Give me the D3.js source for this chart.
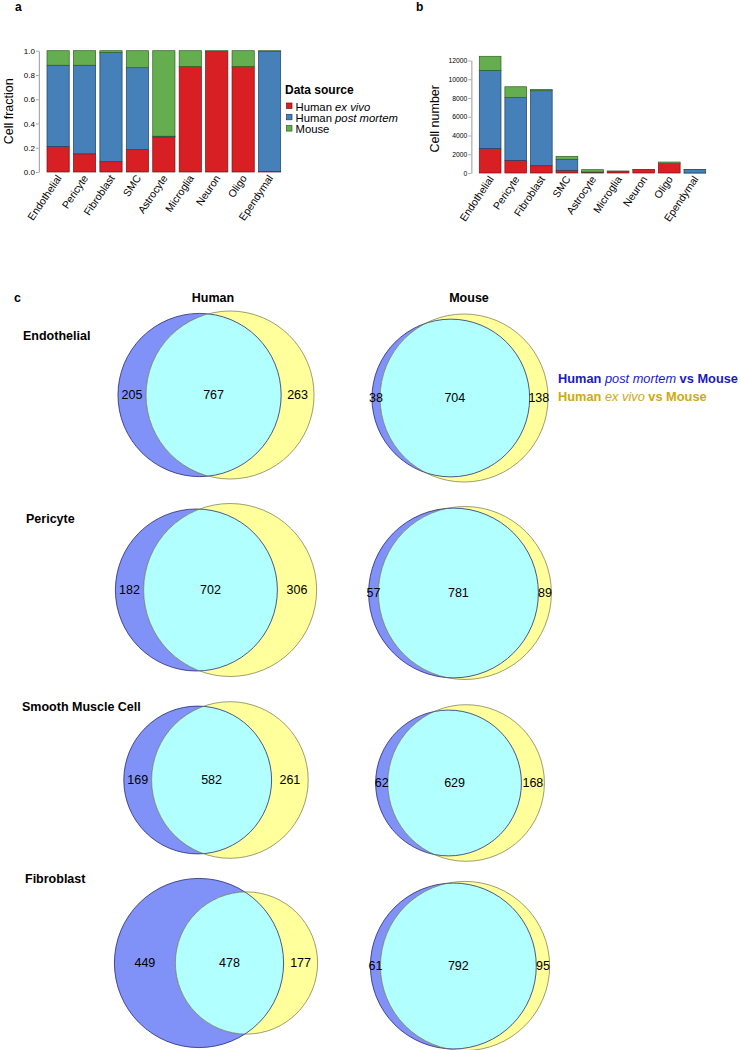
<!DOCTYPE html>
<html><head><meta charset="utf-8">
<script src="https://cdn.jsdelivr.net/npm/d3@7"></script>
<style>
body{margin:0;background:#fff;}
svg{display:block;font-family:"Liberation Sans",Arial,sans-serif;}
</style></head>
<body>
<svg id="chart" width="740" height="1050"></svg>
<script>
// ---------------- DATA ----------------
const cellTypes = ["Endothelial","Pericyte","Fibroblast","SMC","Astrocyte","Microglia","Neuron","Oligo","Ependymal"];
const sourceNames = ["Human ex vivo","Human post mortem","Mouse"];
// panel a: cell fraction per data source
const fracExVivo     = [0.21, 0.15, 0.085, 0.185, 0.29, 0.87, 0.995, 0.87, 0.003];
const fracPostMortem = [0.67, 0.73, 0.90, 0.675, 0.005, 0, 0, 0, 0.99];
const fracMouse      = [0.12, 0.12, 0.015, 0.14, 0.705, 0.13, 0.005, 0.13, 0.007];
// panel b: cell number per data source
const numExVivo      = [2600, 1350, 780, 290, 100, 185, 385, 1000, 5];
const numPostMortem  = [8350, 6700, 8000, 1170, 5, 0, 0, 0, 375];
const numMouse       = [1500, 1150, 130, 320, 250, 28, 5, 170, 10];
const fracTicks = [0, 0.2, 0.4, 0.6, 0.8, 1.0];
const numTicks = [0, 2000, 4000, 6000, 8000, 10000, 12000];
// panel c: Venn counts
const vennRows = ["Endothelial","Pericyte","Smooth Muscle Cell","Fibroblast"];
const humanLeft  = [205, 182, 169, 449];
const humanBoth  = [767, 702, 582, 478];
const humanRight = [263, 306, 261, 177];
const mouseLeft  = [38, 57, 62, 61];
const mouseBoth  = [704, 781, 629, 792];
const mouseRight = [138, 89, 168, 95];

// ---------------- STYLE / LAYOUT ----------------
const colors = ["#d71f24", "#4680b8", "#64ae50"];
const strokes = ["#7a1012", "#1f3f66", "#2f5f24"];
const vennBlue = "#8092f8", vennYellow = "#ffff9c", vennCyan = "#b2ffff";
const rowRadius = [84, 86.5, 78.3, 84.6];   // radius of larger circle per row (px)
const rowCy = [395, 590, 780, 963];
const colCx = [216, 460];
const colDy = [0, 3];

const svg = d3.select("#chart");

function stackedPanel(g, vals, yDomain, yRange, xRange, pad, ticks, fmt, tickFont) {
  const x = d3.scaleBand().domain(cellTypes).range(xRange).paddingInner(pad).paddingOuter(pad/2);
  const y = d3.scaleLinear().domain(yDomain).range(yRange);
  const rows = cellTypes.map((c,i)=>({cat:c, v:[vals[0][i], vals[1][i], vals[2][i]]}));
  rows.forEach(r=>{
    let acc = 0;
    r.v.forEach((v,k)=>{
      const y0 = acc, y1 = acc + v; acc = y1;
      if (v <= 0) return;
      g.append("rect").attr("x", x(r.cat)).attr("width", x.bandwidth())
        .attr("y", y(y1)).attr("height", y(y0) - y(y1))
        .attr("fill", colors[k]).attr("stroke", strokes[k]).attr("stroke-width", 0.7);
    });
  });
  const axisX = xRange[0] - 6;
  const ax = g.append("g").attr("transform", `translate(${axisX},0)`)
    .call(d3.axisLeft(y).tickValues(ticks).tickFormat(fmt).tickSize(3).tickSizeOuter(0));
  ax.select(".domain").attr("stroke", "#aaa").attr("stroke-width", 1.2);
  ax.selectAll(".tick line").attr("stroke", "#aaa");
  ax.selectAll(".tick text").attr("font-size", tickFont).attr("fill", "#000")
    .attr("font-family", "Liberation Sans, Arial, sans-serif").attr("x", -4);
  // category labels
  g.selectAll("text.cat").data(cellTypes).enter().append("text")
    .attr("class","cat")
    .attr("transform", d=>`translate(${x(d)+x.bandwidth()/2+1},${yRange[0]+4}) rotate(-56)`)
    .attr("text-anchor","end").attr("dy","0.35em")
    .attr("font-size", 10.5).text(d=>d);
  return {x, y, axisX};
}

// ----- panel a -----
const ga = svg.append("g");
svg.append("text").attr("x", 15).attr("y", 11).attr("font-weight","bold").attr("font-size",12).text("a");
const pa = stackedPanel(ga, [fracExVivo, fracPostMortem, fracMouse], [0,1], [172, 50.7], [44.9, 282.8], 0.159, fracTicks, d3.format(".1f"), 8);
ga.append("text").attr("transform", `translate(13,${(172+50.7)/2}) rotate(-90)`)
  .attr("text-anchor","middle").attr("font-size",12.5).text("Cell fraction");
// legend
const lg = svg.append("g");
lg.append("text").attr("x", 285).attr("y", 94).attr("font-weight","bold").attr("font-size",12).text("Data source");
const legendLabels = [["Human ", "ex vivo"], ["Human ", "post mortem"], ["Mouse", ""]];
sourceNames.forEach((s,k)=>{
  const yy = 110.5 + k*11.3;
  lg.append("rect").attr("x", 286.5).attr("y", yy-7.5).attr("width",5.5).attr("height",5.5)
    .attr("fill", colors[k]).attr("stroke", strokes[k]).attr("stroke-width",0.7);
  const t = lg.append("text").attr("x", 295.5).attr("y", yy).attr("font-size", 11.3);
  t.append("tspan").text(legendLabels[k][0]);
  if (legendLabels[k][1]) t.append("tspan").attr("font-style","italic").text(legendLabels[k][1]);
});

// ----- panel b -----
const gb = svg.append("g");
svg.append("text").attr("x", 416).attr("y", 11).attr("font-weight","bold").attr("font-size",12).text("b");
const pb = stackedPanel(gb, [numExVivo, numPostMortem, numMouse], [0,12000], [173, 60.5], [477.35, 707.65], 0.152, numTicks, d3.format("d"), 6.8);
gb.append("text").attr("transform", `translate(439,${(173+60.5)/2+2}) rotate(-90)`)
  .attr("text-anchor","middle").attr("font-size",12.5).text("Cell number");

// ----- panel c -----
svg.append("text").attr("x", 14).attr("y", 302).attr("font-weight","bold").attr("font-size",12.5).text("c");
svg.append("text").attr("x", 213).attr("y", 302).attr("text-anchor","middle").attr("font-weight","bold").attr("font-size",12.5).text("Human");
svg.append("text").attr("x", 469).attr("y", 302).attr("text-anchor","middle").attr("font-weight","bold").attr("font-size",12.5).text("Mouse");
const rowLabelPos = [[23,340],[26,523],[22,711],[25,883]];
vennRows.forEach((r,i)=>{
  svg.append("text").attr("x", rowLabelPos[i][0]).attr("y", rowLabelPos[i][1])
    .attr("font-weight","bold").attr("font-size",12.5).text(r);
});
// legend of venns
const vl = svg.append("g").attr("font-size", 12.8).attr("font-weight","bold");
const vl1 = vl.append("text").attr("x", 558).attr("y", 383).attr("fill", "#1a1abf");
vl1.append("tspan").text("Human ");
vl1.append("tspan").attr("font-style","italic").attr("font-weight","normal").text("post mortem");
vl1.append("tspan").text(" vs Mouse");
const vl2 = vl.append("text").attr("x", 558).attr("y", 401).attr("fill", "#d1a814");
vl2.append("tspan").text("Human ");
vl2.append("tspan").attr("font-style","italic").attr("font-weight","normal").text("ex vivo");
vl2.append("tspan").text(" vs Mouse");

function lensArea(r1, r2, d) {
  if (d >= r1 + r2) return 0;
  if (d <= Math.abs(r1 - r2)) return Math.PI * Math.min(r1,r2) ** 2;
  const a1 = Math.acos((d*d + r1*r1 - r2*r2) / (2*d*r1));
  const a2 = Math.acos((d*d + r2*r2 - r1*r1) / (2*d*r2));
  const s = Math.sqrt((-d+r1+r2)*(d+r1-r2)*(d-r1+r2)*(d+r1+r2));
  return r1*r1*a1 + r2*r2*a2 - 0.5*s;
}

let clipId = 0;
function drawVenn(left, both, right, R, cx, cy) {
  const nA = left + both, nB = right + both;
  const k = R / Math.sqrt(Math.max(nA, nB));
  const r1 = k * Math.sqrt(nA), r2 = k * Math.sqrt(nB);
  const target = Math.PI * k * k * both;
  let lo = Math.abs(r1 - r2), hi = r1 + r2;
  for (let it = 0; it < 80; it++) {
    const mid = (lo + hi) / 2;
    if (lensArea(r1, r2, mid) > target) lo = mid; else hi = mid;
  }
  const d = (lo + hi) / 2;
  const minX = Math.min(-r1, d - r2), maxX = Math.max(r1, d + r2);
  const c1 = cx - (minX + maxX) / 2, c2 = c1 + d;
  const g = svg.append("g");
  const id = "clip" + (clipId++);
  g.append("clipPath").attr("id", id).append("circle").attr("cx", c1).attr("cy", cy).attr("r", r1);
  g.append("circle").attr("cx", c1).attr("cy", cy).attr("r", r1).attr("fill", vennBlue);
  g.append("circle").attr("cx", c2).attr("cy", cy).attr("r", r2).attr("fill", vennYellow);
  g.append("circle").attr("cx", c2).attr("cy", cy).attr("r", r2).attr("fill", vennCyan).attr("clip-path", `url(#${id})`);
  g.append("circle").attr("cx", c1).attr("cy", cy).attr("r", r1).attr("fill", "none")
    .attr("stroke", "#1e1e70").attr("stroke-opacity", 0.75).attr("stroke-width", 1);
  g.append("circle").attr("cx", c2).attr("cy", cy).attr("r", r2).attr("fill", "none")
    .attr("stroke", "#6a6a3c").attr("stroke-opacity", 0.65).attr("stroke-width", 1);
  const lA = c1 - r1, lB = c2 - r2, rA = c1 + r1, rB = c2 + r2;
  const labels = [[(lA + lB)/2, left], [(lB + rA)/2, both], [(rA + rB)/2, right]];
  labels.forEach(([x, v])=>{
    g.append("text").attr("x", x).attr("y", cy + 4).attr("text-anchor","middle")
      .attr("font-size", 12.5).text(v);
  });
}
vennRows.forEach((r,i)=>{
  drawVenn(humanLeft[i], humanBoth[i], humanRight[i], rowRadius[i], colCx[0], rowCy[i] + colDy[0]);
  drawVenn(mouseLeft[i], mouseBoth[i], mouseRight[i], rowRadius[i], colCx[1], rowCy[i] + colDy[1]);
});
</script>
</body></html>
